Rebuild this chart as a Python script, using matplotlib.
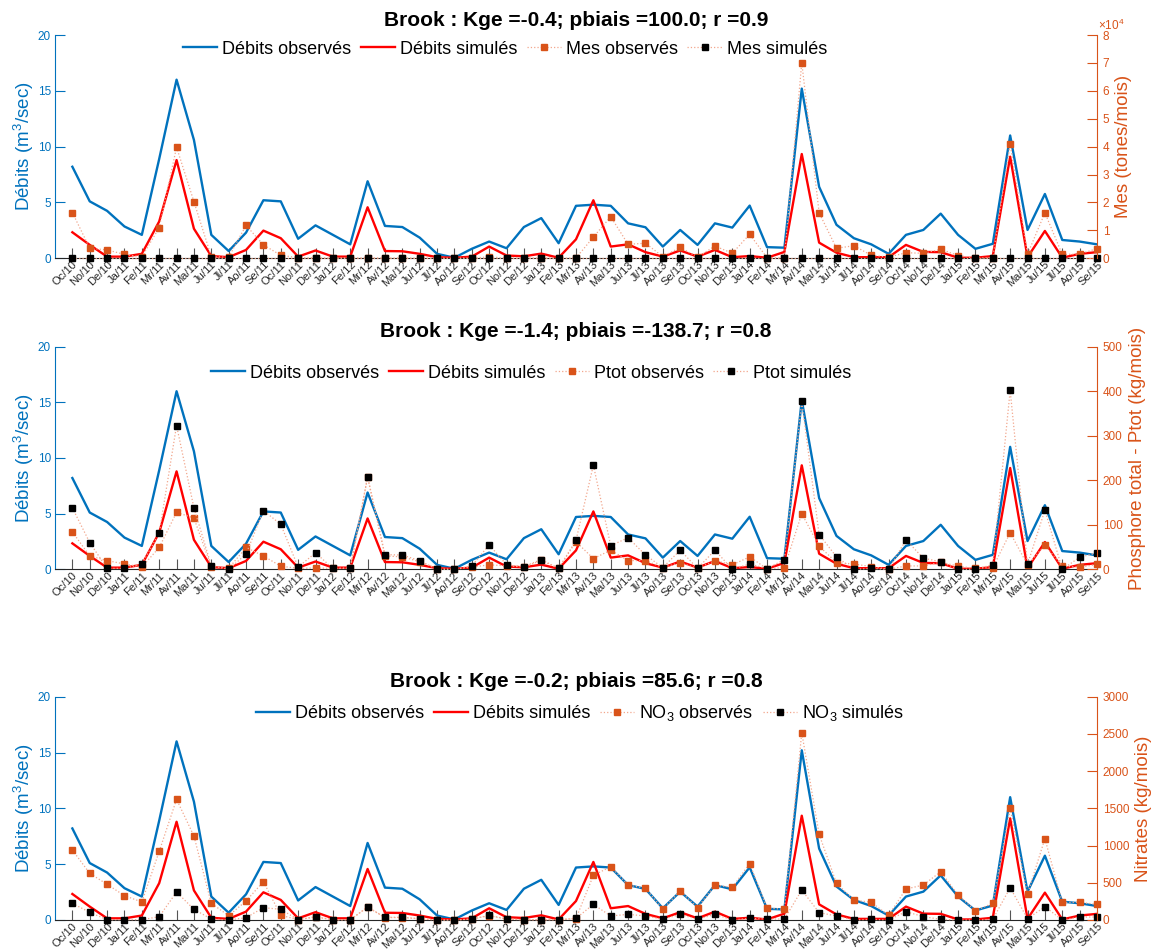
import matplotlib
matplotlib.use('Agg')
import matplotlib.pyplot as plt

plt.rcParams['font.family'] = ['Liberation Sans', 'DejaVu Sans']
plt.rcParams['mathtext.fontset'] = 'custom'
plt.rcParams['mathtext.rm'] = 'Liberation Sans'
plt.rcParams['mathtext.it'] = 'Liberation Sans:italic'
plt.rcParams['mathtext.bf'] = 'Liberation Sans:bold'

# ---------------- data ----------------
month_labels = [
    'Oc/10', 'No/10', 'De/10', 'Ja/11', 'Fe/11', 'Mr/11', 'Av/11', 'Ma/11', 'Ju/11', 'Jl/11', 'Ao/11', 'Se/11',
    'Oc/11', 'No/11', 'De/11', 'Ja/12', 'Fe/12', 'Mr/12', 'Av/12', 'Ma/12', 'Ju/12', 'Jl/12', 'Ao/12', 'Se/12',
    'Oc/12', 'No/12', 'De/12', 'Ja/13', 'Fe/13', 'Mr/13', 'Av/13', 'Ma/13', 'Ju/13', 'Jl/13', 'Ao/13', 'Se/13',
    'Oc/13', 'No/13', 'De/13', 'Ja/14', 'Fe/14', 'Mr/14', 'Av/14', 'Ma/14', 'Ju/14', 'Jl/14', 'Ao/14', 'Se/14',
    'Oc/14', 'No/14', 'De/14', 'Ja/15', 'Fe/15', 'Mr/15', 'Av/15', 'Ma/15', 'Ju/15', 'Jl/15', 'Ao/15', 'Se/15']

q_obs = [8.2, 5.1, 4.25, 2.85, 2.1, 8.9, 16.0, 10.6, 2.1, 0.65,
         2.3, 5.2, 5.1, 1.75, 2.95, 2.1, 1.25, 6.9, 2.9, 2.8,
         1.85, 0.4, 0.05, 0.85, 1.5, 0.9, 2.8, 3.6, 1.35, 4.7,
         4.8, 4.7, 3.13, 2.78, 1.05, 2.54, 1.2, 3.13, 2.75, 4.72,
         1.0, 0.95, 15.2, 6.4, 3.0, 1.8, 1.25, 0.4, 2.1, 2.54,
         4.0, 2.1, 0.85, 1.3, 11.0, 2.54, 5.76, 1.64, 1.5, 1.25]

q_sim = [2.33, 1.2, 0.15, 0.15, 0.4, 3.3, 8.8, 2.65, 0.2, 0.1,
         0.75, 2.48, 1.8, 0.15, 0.7, 0.15, 0.15, 4.57, 0.65, 0.63,
         0.4, 0.1, 0.05, 0.15, 1.05, 0.25, 0.18, 0.42, 0.05, 1.7,
         5.2, 1.05, 1.25, 0.55, 0.15, 0.7, 0.15, 0.75, 0.1, 0.2,
         0.05, 0.57, 9.34, 1.4, 0.5, 0.1, 0.1, 0.1, 1.2, 0.57,
         0.55, 0.05, 0.05, 0.2, 9.1, 0.1, 2.45, 0.05, 0.4, 0.55]

mes_obs = [16400, 3600, 3000, 1400, 500, 11000, 39800, 20300, 600, 400,
           11800, 4800, 1100, 200, 200, 100, 100, 200, 100, 100,
           100, 50, 50, 100, 500, 100, 100, 100, 50, 100,
           7600, 14900, 5000, 5400, 600, 3900, 400, 4400, 1800, 8600,
           200, 200, 70100, 16300, 3600, 4500, 1100, 400, 2000, 1800,
           3200, 1000, 100, 200, 41100, 1500, 16300, 1400, 1500, 3500]

mes_sim = [0, 0, 0, 0, 0, 0, 0, 0, 0, 0,
           0, 0, 0, 0, 0, 0, 0, 0, 0, 0,
           0, 0, 0, 0, 0, 0, 0, 0, 0, 0,
           0, 0, 0, 0, 0, 0, 0, 0, 0, 0,
           0, 0, 0, 0, 0, 0, 0, 0, 0, 0,
           0, 0, 0, 0, 0, 0, 0, 0, 0, 0]

ptot_obs = [84, 30, 19.5, 12, 5, 49, 128, 115, 6, 2,
            49, 30, 7, 2, 3, 2, 2, 207, 30, 28,
            17, 1, 0, 5, 10, 8, 5, 20, 2, 62,
            24, 43, 19.5, 19.5, 4, 15, 2, 19.5, 10, 28,
            1, 4, 125, 52, 15, 12, 6, 0, 7.5, 7.5,
            16, 7, 2, 4, 82, 10, 54, 7.5, 4.5, 11]

ptot_sim = [138, 60, 2, 2, 12, 81, 323, 138, 8, 0,
            34, 132, 101, 5, 37, 2, 3, 208, 33, 32,
            19.5, 0, 0, 7.5, 55, 10, 6, 22, 2, 65,
            234, 53, 71, 32, 4, 43, 2, 43, 0, 12,
            1.5, 22, 377, 78, 28, 0, 2, 0, 66, 25,
            17, 0, 0, 10.5, 402, 11, 133, 0, 27, 37]

no3_obs = [940, 627, 479, 327, 242, 922, 1621, 1128, 224, 58,
           255, 515, 63, 5, 40, 3, 3, 172, 33, 33,
           16, 0, 0, 12, 58, 12, 3, 3, 3, 20,
           600, 716, 470, 425, 148, 390, 166, 470, 439, 757,
           161, 143, 2517, 1151, 493, 269, 237, 63, 416, 470,
           649, 336, 125, 224, 1500, 349, 1093, 237, 237, 210]

no3_sim = [224, 103, 4, 4, 4, 45, 376, 143, 13, 0,
           31, 166, 143, 4, 45, 4, 4, 175, 36, 36,
           18, 0, 0, 13, 63, 13, 4, 4, 4, 22,
           210, 54, 76, 54, 9, 76, 9, 76, 0, 22,
           13, 13, 403, 99, 54, 0, 9, 0, 112, 45,
           9, 0, 0, 9, 434, 18, 179, 0, 40, 40]

titles = ['Brook : Kge =-0.4; pbiais =100.0; r =0.9',
          'Brook : Kge =-1.4; pbiais =-138.7; r =0.8',
          'Brook : Kge =-0.2; pbiais =85.6; r =0.8']

# ---------------- style ----------------
BLUE = '#0072BD'
RED = '#FF0000'
ORANGE = '#D95319'
DOT = '#F2A68C'
AXC = '#262626'

W_PX, H_PX = 1154, 949
fig = plt.figure(figsize=(W_PX / 100, H_PX / 100), dpi=100)

x = list(range(1, len(month_labels) + 1))
left_px, right_px = 55, 1097

panels = [
    dict(top=35, bot=258.3, obs=mes_obs, sim=mes_sim, ylim=(0, 80000),
         yticks=[0, 10000, 20000, 30000, 40000, 50000, 60000, 70000, 80000],
         yticklabels=['0', '1', '2', '3', '4', '5', '6', '7', '8'],
         rlabel='Mes (tones/mois)', rlabel_x=1123,
         lab_obs='Mes observés', lab_sim='Mes simulés', leg_cx=505, leg_cy=49, title=titles[0],
         offset='×10$^{4}$'),
    dict(top=346.7, bot=569.3, obs=ptot_obs, sim=ptot_sim, ylim=(0, 500),
         yticks=[0, 100, 200, 300, 400, 500],
         yticklabels=['0', '100', '200', '300', '400', '500'],
         rlabel='Phosphore total - Ptot (kg/mois)', rlabel_x=1137,
         lab_obs='Ptot observés', lab_sim='Ptot simulés', leg_cx=531, leg_cy=373, title=titles[1],
         offset=None),
    dict(top=696.7, bot=920, obs=no3_obs, sim=no3_sim, ylim=(0, 3000),
         yticks=[0, 500, 1000, 1500, 2000, 2500, 3000],
         yticklabels=['0', '500', '1000', '1500', '2000', '2500', '3000'],
         rlabel='Nitrates (kg/mois)', rlabel_x=1144,
         lab_obs='NO$_3$ observés', lab_sim='NO$_3$ simulés', leg_cx=580, leg_cy=713, title=titles[2],
         offset=None),
]

for p in panels:
    rect = [left_px / W_PX, 1 - p['bot'] / H_PX, (right_px - left_px) / W_PX, (p['bot'] - p['top']) / H_PX]
    ax = fig.add_axes(rect)
    h1, = ax.plot(x, q_obs, color=BLUE, lw=1.7, label='Débits observés')
    h2, = ax.plot(x, q_sim, color=RED, lw=1.7, label='Débits simulés')
    ax.set_xlim(0, 60)
    ax.set_ylim(0, 20)
    ax.set_yticks([0, 5, 10, 15, 20])
    ax.set_xticks(x)
    ax.set_xticklabels(month_labels, rotation=45, ha='right', va='top', rotation_mode='anchor',
                       fontsize=8, color=AXC)
    ax.tick_params(axis='x', direction='in', length=7.5, width=0.8, color='#555555', pad=0.8)
    ax.tick_params(axis='y', direction='in', length=7.5, width=0.8, colors=BLUE, labelsize=8.5, pad=3)
    for s in ['top', 'right']:
        ax.spines[s].set_visible(False)
    ax.spines['left'].set_color(BLUE)
    ax.spines['bottom'].set_color(AXC)
    ax.spines['left'].set_linewidth(0.8)
    ax.spines['bottom'].set_linewidth(0.8)

    ax2 = ax.twinx()
    h3, = ax2.plot(x, p['obs'], ls=':', color=DOT, lw=0.9, marker='s', ms=4.4,
                   mfc=ORANGE, mec=ORANGE, clip_on=False, label=p['lab_obs'])
    h4, = ax2.plot(x, p['sim'], ls=':', color=DOT, lw=0.9, marker='s', ms=4.4,
                   mfc='black', mec='black', clip_on=False, label=p['lab_sim'])
    ax2.set_xlim(0, 60)
    ax2.set_ylim(*p['ylim'])
    ax2.set_yticks(p['yticks'])
    ax2.set_yticklabels(p['yticklabels'])
    ax2.tick_params(axis='y', direction='in', length=7.5, width=0.8, colors=ORANGE, labelsize=8.5, pad=4)
    for s in ['top', 'left', 'bottom']:
        ax2.spines[s].set_visible(False)
    ax2.spines['right'].set_color(ORANGE)
    ax2.spines['right'].set_linewidth(0.8)

    # title
    fig.text(576 / W_PX, 1 - (p['top'] - 15) / H_PX, p['title'], ha='center', va='center',
             fontsize=15, fontweight='bold', color='black')
    # left y label
    fig.text(24 / W_PX, 1 - ((p['top'] + p['bot']) / 2) / H_PX, 'Débits (m$^3$/sec)',
             rotation=90, ha='center', va='center', fontsize=13.5, color=BLUE)
    # right y label
    fig.text(p['rlabel_x'] / W_PX, 1 - ((p['top'] + p['bot']) / 2) / H_PX, p['rlabel'],
             rotation=90, ha='center', va='center', fontsize=13.5, color=ORANGE)
    if p['offset']:
        fig.text(1098 / W_PX, 1 - 25 / H_PX, p['offset'], ha='left', va='center', fontsize=8.5, color=ORANGE)

    # legend
    ax_h = p['bot'] - p['top']
    leg = ax2.legend([h1, h2, h3, h4], ['Débits observés', 'Débits simulés', p['lab_obs'], p['lab_sim']],
                     loc='center', ncol=4, frameon=False, fontsize=13,
                     bbox_to_anchor=((p['leg_cx'] - left_px) / (right_px - left_px),
                                     (p['bot'] - p['leg_cy']) / ax_h),
                     handlelength=1.9, handletextpad=0.3, columnspacing=0.5, borderpad=0.2)

fig.savefig('out.png', dpi=100)
